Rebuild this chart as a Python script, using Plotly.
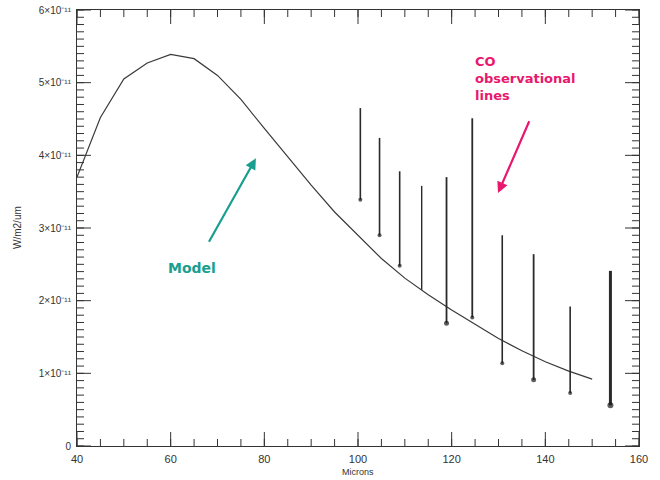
import plotly.graph_objects as go

# Model curve (microns, W/m2/um)
model_x = [40, 45, 50, 55, 60, 65, 70, 75, 80, 85, 90, 95, 100, 105, 110, 115,
           120, 125, 130, 135, 140, 145, 150]
model_y = [3.70e-11, 4.52e-11, 5.05e-11, 5.27e-11, 5.39e-11, 5.33e-11, 5.10e-11,
           4.77e-11, 4.37e-11, 3.98e-11, 3.59e-11, 3.22e-11, 2.90e-11, 2.58e-11,
           2.31e-11, 2.08e-11, 1.87e-11, 1.67e-11, 1.48e-11, 1.31e-11, 1.16e-11,
           1.03e-11, 0.92e-11]

# CO observational lines
co_x = [100.5, 104.6, 108.9, 113.6, 118.9, 124.4, 130.8, 137.5, 145.3, 153.9]
co_top = [4.65e-11, 4.24e-11, 3.78e-11, 3.58e-11, 3.70e-11, 4.51e-11, 2.90e-11,
          2.64e-11, 1.92e-11, 2.41e-11]
co_bottom = [3.39e-11, 2.90e-11, 2.48e-11, 2.15e-11, 1.69e-11, 1.77e-11, 1.14e-11,
             0.91e-11, 0.73e-11, 0.56e-11]

# Axis ticks
x_range = [40, 160]
y_range = [0, 6e-11]
x_major = [40, 60, 80, 100, 120, 140, 160]
x_minor = list(range(40, 161, 5))
y_major = [0, 1e-11, 2e-11, 3e-11, 4e-11, 5e-11, 6e-11]
y_ticktext = ["0", "1×10⁻¹¹", "2×10⁻¹¹", "3×10⁻¹¹", "4×10⁻¹¹", "5×10⁻¹¹", "6×10⁻¹¹"]
y_minor = [i * 1e-12 for i in range(0, 61)]

line_widths = [1.6, 1.6, 1.6, 1.4, 1.8, 1.8, 1.6, 1.8, 1.6, 3.0]
head_sizes = [4, 4, 4, 0, 5, 4, 4, 5, 4, 6]

fig = go.Figure()
fig.add_trace(go.Scatter(x=model_x, y=model_y, mode="lines",
                         line=dict(color="#3a3a3a", width=1.2),
                         hoverinfo="skip", showlegend=False))

for xv, yt, yb, w in zip(co_x, co_top, co_bottom, line_widths):
    fig.add_trace(go.Scatter(x=[xv, xv], y=[yt, yb], mode="lines",
                             line=dict(color="#2a2a2a", width=w),
                             showlegend=False, hoverinfo="skip"))
fig.add_trace(go.Scatter(x=co_x, y=co_bottom, mode="markers",
                         marker=dict(symbol="circle", size=head_sizes,
                                     color="#1a1a1a", line=dict(width=0)),
                         showlegend=False, hoverinfo="skip"))

# IDL-style inward ticks on all four sides: line markers centred on the frame,
# the outer half clipped away by the plot area
def tick_trace(xs, ys, symbol, size):
    return go.Scatter(x=xs, y=ys, mode="markers", cliponaxis=True,
                      marker=dict(symbol=symbol, size=size, color="#333333",
                                  line=dict(color="#333333", width=1)),
                      showlegend=False, hoverinfo="skip")

for vals, size in ((x_minor, 10), (x_major, 20)):
    for yv in y_range:
        fig.add_trace(tick_trace(vals, [yv] * len(vals), "line-ns", size))
for vals, size in ((y_minor, 10), (y_major, 20)):
    for xv in x_range:
        fig.add_trace(tick_trace([xv] * len(vals), vals, "line-ew", size))

fam = "Liberation Sans, Arial, sans-serif"

fig.update_layout(
    template="none", width=660, height=480,
    margin=dict(l=77, r=21, t=10, b=34),
    paper_bgcolor="white", plot_bgcolor="white", showlegend=False,
    xaxis=dict(range=x_range, tickmode="array", tickvals=x_major, ticks="",
               showline=True, linecolor="#333333", linewidth=1, mirror=True,
               showgrid=False, zeroline=False, automargin=False, ticklabelstandoff=3,
               tickfont=dict(family=fam, size=11, color="#333")),
    yaxis=dict(range=y_range, tickmode="array", tickvals=y_major, ticktext=y_ticktext,
               ticks="", showline=True, linecolor="#333333", linewidth=1, mirror=True,
               showgrid=False, zeroline=False, automargin=False, ticklabelstandoff=3,
               tickfont=dict(family=fam, size=10, color="#333")),
)

# axis titles
fig.add_annotation(xref="paper", yref="paper", x=0.5, y=0, yshift=-26,
                   text="Microns", showarrow=False, yanchor="middle",
                   font=dict(family=fam, size=9, color="#333"))
fig.add_annotation(xref="paper", yref="paper", x=0, y=0.5, xshift=-60,
                   text="W/m2/um", showarrow=False, textangle=-90, xanchor="center",
                   font=dict(family=fam, size=10, color="#333"))

bold = "DejaVu Sans, Liberation Sans, sans-serif"
fig.add_annotation(x=78.2, y=3.96e-11, ax=68.0, ay=2.79e-11, xref="x", yref="y",
                   axref="x", ayref="y", showarrow=True, arrowhead=2, arrowsize=1,
                   arrowwidth=2.2, arrowcolor="#1a9e8f", text="")
fig.add_annotation(x=129.9, y=3.48e-11, ax=136.7, ay=4.49e-11, xref="x", yref="y",
                   axref="x", ayref="y", showarrow=True, arrowhead=2, arrowsize=1,
                   arrowwidth=2.2, arrowcolor="#e8186e", text="")
fig.add_annotation(x=64.6, y=2.45e-11, xref="x", yref="y", showarrow=False,
                   text="<b>Model</b>", font=dict(family=bold, size=14, color="#1a9e8f"),
                   xanchor="center", yanchor="middle")
fig.add_annotation(x=124.6, y=5.06e-11, xref="x", yref="y", showarrow=False,
                   text="<b>CO<br>observational<br>lines</b>", align="left",
                   font=dict(family=bold, size=13, color="#e8186e"),
                   xanchor="left", yanchor="middle")

fig.write_html("out.html")
